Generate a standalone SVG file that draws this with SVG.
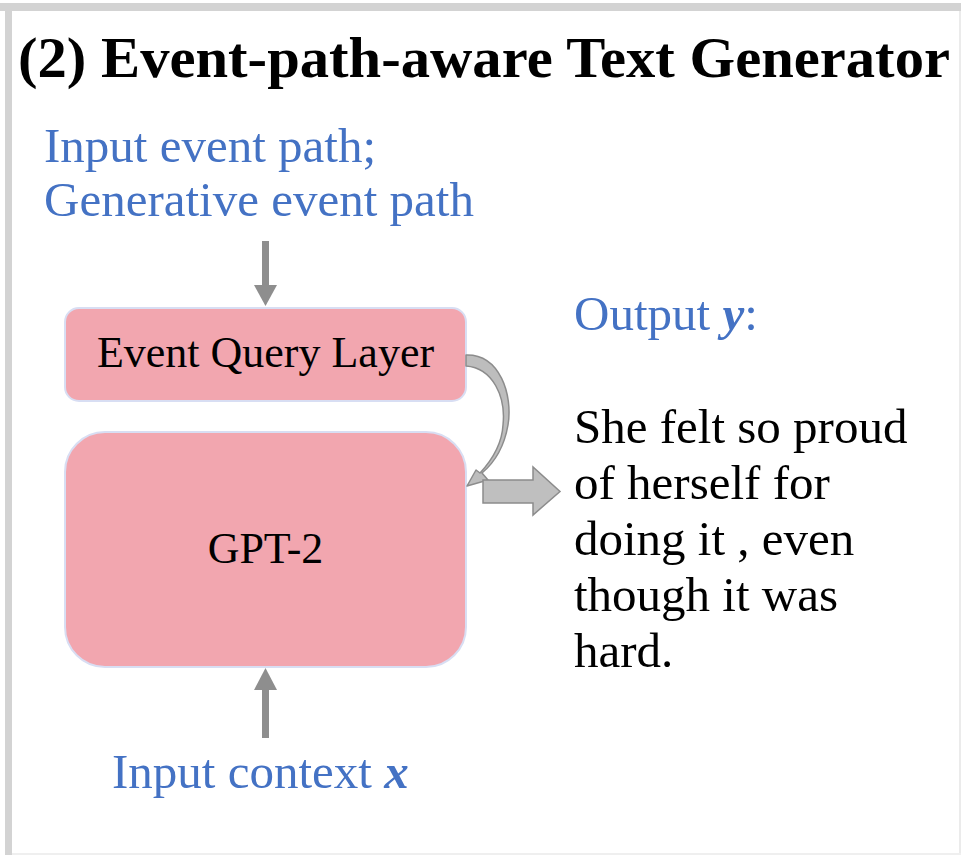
<svg xmlns="http://www.w3.org/2000/svg" width="961" height="855" viewBox="0 0 961 855">
<style>
.t{font-family:"Liberation Serif","Times New Roman",serif}
.blue{fill:#4472C4;font-size:49px}
.blk{fill:#000;font-size:49px}
.box{fill:#F2A6AF;stroke:#D8DEF3;stroke-width:2}
.lbl{fill:#000;font-size:44px}
.math{font-style:italic;font-weight:bold}
</style>
<rect x="0" y="0" width="961" height="855" fill="#fff"/>
<rect x="0" y="3" width="961" height="8" fill="#D3D3D3"/>
<rect x="5" y="3" width="7" height="852" fill="#D3D3D3"/>
<rect x="959" y="11" width="2" height="844" fill="#EBEBEB"/>
<rect x="12" y="853" width="949" height="2" fill="#EFEFEF"/>
<text class="t" x="18" y="77" font-size="58" font-weight="bold" fill="#000" textLength="932" lengthAdjust="spacingAndGlyphs">(2) Event-path-aware Text Generator</text>
<text class="t blue" x="44" y="162">Input event path;</text>
<text class="t blue" x="44" y="216">Generative event path</text>
<g id="eql">
<rect class="box" x="65" y="308" width="401" height="93" rx="14"/>
<text class="t lbl" x="265.5" y="367" text-anchor="middle">Event Query Layer</text>
</g>
<g id="gpt2">
<rect class="box" x="65" y="432" width="401" height="235" rx="40"/>
<text class="t lbl" x="265.5" y="563" text-anchor="middle">GPT-2</text>
</g>
<g id="output">
<text class="t blue" x="574" y="330">Output <tspan class="math">y</tspan>:</text>
<text class="t blk" x="574" y="443">She felt so proud</text>
<text class="t blk" x="574" y="499">of herself for</text>
<text class="t blk" x="574" y="555">doing it , even</text>
<text class="t blk" x="574" y="611">though it was</text>
<text class="t blk" x="574" y="667">hard.</text>
</g>
<text class="t blue" x="112" y="788">Input context <tspan class="math">x</tspan></text>
<g id="connectors">
<line x1="265.5" y1="241" x2="265.5" y2="287" stroke="#8E8E8E" stroke-width="7"/>
<polygon points="254,285 277,285 265.5,306" fill="#8E8E8E"/>
<line x1="265.5" y1="738" x2="265.5" y2="688" stroke="#8E8E8E" stroke-width="7"/>
<polygon points="254,690 277,690 265.5,668" fill="#8E8E8E"/>
<path d="M466,355 C500,354 513,395 508,425 C504,448 494,463 482,473 L488,480 L467,486 L476,470 L480,473 C492,460 502,444 503,425 C506,397 493,368 466,366 Z" fill="#BDBDBD" stroke="#8C8C8C" stroke-width="1.5" stroke-linejoin="round"/>
<polygon points="483,480 533,480 533,467 560,491.5 533,515 533,503 483,503" fill="#BFBFBF" stroke="#8C8C8C" stroke-width="1.5"/>
</g>
</svg>
